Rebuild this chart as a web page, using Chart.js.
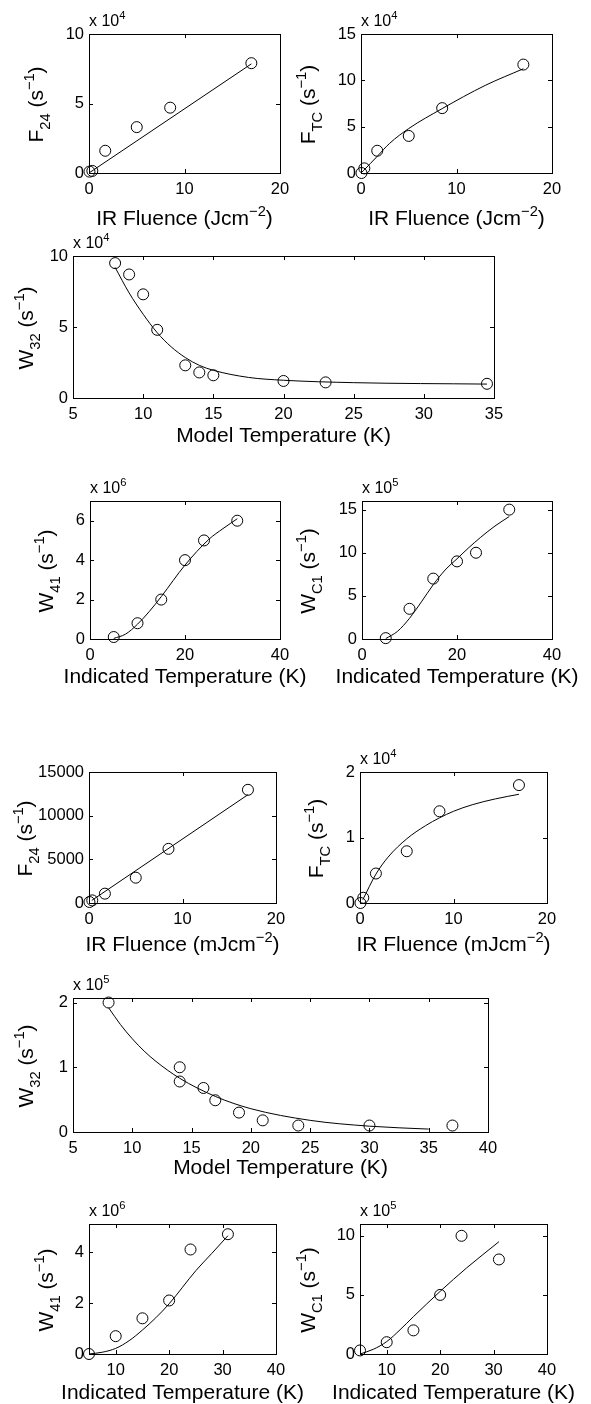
<!DOCTYPE html>
<html>
<head>
<meta charset="utf-8">
<script src="https://cdn.jsdelivr.net/npm/chart.js@4/dist/chart.umd.min.js"></script>
<style>
html, body { margin: 0; padding: 0; background: #fff; overflow: hidden; }
#fig { position: relative; width: 591px; height: 1404px; }
#fig canvas { position: absolute; }
</style>
</head>
<body>
<div id="fig"></div>
<script>
(function(){
// ---- upper figure (rates in units of the axis multiplier) ----
const fluence = [0.05, 0.35, 1.7, 5, 8.5, 17];
const f24Upper = [0.1, 0.15, 1.6, 3.3, 4.7, 7.9];
const f24UpperFitX = [0, 17];
const f24UpperFitY = [0, 7.85];
const ftcUpper = [0, 0.5, 2.4, 4, 7, 11.7];
const ftcUpperFitX = [0, 0.3, 1.7, 3, 5, 8.5, 13, 17];
const ftcUpperFitY = [0, 0.3, 1.8, 3.2, 4.8, 6.95, 9.45, 11.25];
const modelTUpper = [8, 9, 10, 11, 13, 14, 15, 20, 23, 34.5];
const w32Upper = [9.5, 8.7, 7.3, 4.8, 2.3, 1.8, 1.6, 1.2, 1.1, 1.0];
const w32UpperFitX = [8, 9, 10, 11, 12, 13, 14, 15, 17.5, 20, 25, 34.5];
const w32UpperFitY = [9.2, 7.4, 5.9, 4.6, 3.6, 2.85, 2.3, 1.95, 1.45, 1.25, 1.08, 0.98];
const indicatedT = [5, 10, 15, 20, 24, 31];
const w41Upper = [0.1, 0.8, 2.0, 4.0, 5.0, 6.0];
const w41UpperFitX = [5, 7.5, 10, 12.5, 15, 20, 25, 28, 31];
const w41UpperFitY = [0.03, 0.25, 0.75, 1.4, 2.15, 3.75, 5.05, 5.6, 6.1];
const wc1Upper = [0.1, 3.5, 7, 9, 10, 15];
const wc1UpperFitX = [5, 7.5, 10, 12.5, 15, 17.5, 20, 22.5, 25, 28, 31];
const wc1UpperFitY = [0.05, 0.9, 2.4, 4.3, 6.3, 8.0, 9.3, 10.6, 11.8, 13.1, 14.2];

// ---- lower figure ----
const f24Lower = [115, 300, 1070, 2900, 6200, 12960];
const f24LowerFitX = [0.3, 17];
const f24LowerFitY = [300, 12400];
const ftcLower = [0.0, 0.08, 0.45, 0.79, 1.4, 1.8];
const ftcLowerFitX = [0.3, 1.7, 3, 5, 7, 8.5, 10, 12, 14.5, 17];
const ftcLowerFitY = [0.05, 0.44, 0.7, 0.98, 1.18, 1.3, 1.4, 1.5, 1.59, 1.66];
const modelTLower = [8, 14, 14, 16, 17, 19, 21, 24, 30, 37];
const w32Lower = [2.0, 1.0, 0.78, 0.68, 0.49, 0.3, 0.18, 0.1, 0.1, 0.1];
const w32LowerFitX = [8, 9, 10, 11, 12, 14, 17, 20, 25, 30, 35];
const w32LowerFitY = [1.92, 1.66, 1.44, 1.25, 1.09, 0.83, 0.55, 0.36, 0.18, 0.09, 0.045];
const w41Lower = [0, 0.7, 1.4, 2.1, 4.1, 4.7];
const w41LowerFitX = [5, 7.5, 10, 12.5, 15, 17.5, 20, 25, 28, 31];
const w41LowerFitY = [0, 0.07, 0.22, 0.52, 0.94, 1.42, 1.97, 3.27, 3.95, 4.64];
const wc1Lower = [0.3, 1, 2, 5, 10, 8];
const wc1LowerFitX = [5, 7.5, 10, 12.5, 15, 20, 25, 31];
const wc1LowerFitY = [0, 0.4, 1.05, 2.05, 3.16, 5.3, 7.3, 9.5];

const FONT = '"Liberation Sans", Arial, Helvetica, sans-serif';
const INK = '#000';
const TITLE = 21, TICK = 16.5, EXP = 16;

const fluenceJ = [['IR Fluence (Jcm', ''], ['−2', 'sup'], [')', '']];
const fluenceMJ = [['IR Fluence (mJcm', ''], ['−2', 'sup'], [')', '']];
const modelT = [['Model Temperature (K)', '']];
const indT = [['Indicated Temperature (K)', '']];
const rate = (sym, sub) => [[sym, ''], [sub, 'sub'], [' (s', ''], ['−1', 'sup'], [')', '']];

// canvas columns; neighbours overlap, the canvases are transparent
const LEFT = [0, 330], RIGHT = [290, 591], WIDE = [0, 591];

const panels = [
  { cell: LEFT, box: [89, 34, 280, 173], x: [0, 20, 10], y: [0, 10, 5], exp: '4',
    yTitle: rate('F', '24'), yTitleX: 43, xTitle: fluenceJ, xTitleY: 225,
    pts: [fluence, f24Upper], fit: [f24UpperFitX, f24UpperFitY] },
  { cell: RIGHT, box: [361, 34, 552, 173], x: [0, 20, 10], y: [0, 15, 5], exp: '4',
    yTitle: rate('F', 'TC'), yTitleX: 315, xTitle: fluenceJ, xTitleY: 225,
    pts: [fluence, ftcUpper], fit: [ftcUpperFitX, ftcUpperFitY] },
  { cell: WIDE, box: [73, 256, 494, 398], x: [5, 35, 5], y: [0, 10, 5], exp: '4',
    yTitle: rate('W', '32'), yTitleX: 33, xTitle: modelT, xTitleY: 442,
    pts: [modelTUpper, w32Upper], fit: [w32UpperFitX, w32UpperFitY] },
  { cell: LEFT, box: [90, 501, 280, 639], x: [0, 40, 20], y: [0, 7, 2], exp: '6',
    yTitle: rate('W', '41'), yTitleX: 53, xTitle: indT, xTitleY: 683,
    pts: [indicatedT, w41Upper], fit: [w41UpperFitX, w41UpperFitY] },
  { cell: RIGHT, box: [362, 501, 552, 639], x: [0, 40, 20], y: [0, 16, 5], exp: '5',
    yTitle: rate('W', 'C1'), yTitleX: 315, xTitle: indT, xTitleY: 683,
    pts: [indicatedT, wc1Upper], fit: [wc1UpperFitX, wc1UpperFitY] },
  { cell: LEFT, box: [89, 772, 276, 903], x: [0, 20, 10], y: [0, 15000, 5000], exp: null,
    yTitle: rate('F', '24'), yTitleX: 32, xTitle: fluenceMJ, xTitleY: 951,
    pts: [fluence, f24Lower], fit: [f24LowerFitX, f24LowerFitY] },
  { cell: RIGHT, box: [360, 772, 547, 903], x: [0, 20, 10], y: [0, 2, 1], exp: '4',
    yTitle: rate('F', 'TC'), yTitleX: 323, xTitle: fluenceMJ, xTitleY: 951,
    pts: [fluence, ftcLower], fit: [ftcLowerFitX, ftcLowerFitY] },
  { cell: WIDE, box: [73, 998, 488, 1132], x: [5, 40, 5], y: [0, 2.07, 1], exp: '5',
    yTitle: rate('W', '32'), yTitleX: 33, xTitle: modelT, xTitleY: 1174,
    pts: [modelTLower, w32Lower], fit: [w32LowerFitX, w32LowerFitY] },
  { cell: LEFT, box: [89, 1224, 276, 1354], x: [5, 40, 10], y: [0, 5.1, 2], exp: '6',
    yTitle: rate('W', '41'), yTitleX: 53, xTitle: indT, xTitleY: 1399,
    pts: [indicatedT, w41Lower], fit: [w41LowerFitX, w41LowerFitY] },
  { cell: RIGHT, box: [360, 1224, 547, 1354], x: [5, 40, 10], y: [0, 11, 5], exp: '5',
    yTitle: rate('W', 'C1'), yTitleX: 315, xTitle: indT, xTitleY: 1399,
    pts: [indicatedT, wc1Lower], fit: [wc1LowerFitX, wc1LowerFitY] },
];

// text with sub/superscript runs; align 'center' or 'left', y is the baseline
function drawRich(ctx, parts, x, y, size, align) {
  const runs = parts.map(([t, k]) => {
    const s = k ? size * 0.7 : size;
    ctx.font = s + 'px ' + FONT;
    return { t, k, s, w: ctx.measureText(t).width };
  });
  const total = runs.reduce((a, r) => a + r.w, 0);
  let cx = align === 'left' ? x : x - total / 2;
  ctx.textAlign = 'left';
  ctx.textBaseline = 'alphabetic';
  runs.forEach(r => {
    ctx.font = r.s + 'px ' + FONT;
    const dy = r.k === 'sub' ? size * 0.32 : r.k === 'sup' ? -size * 0.45 : 0;
    ctx.fillText(r.t, cx, y + dy);
    cx += r.w;
  });
}

const zip = (xs, ys) => xs.map((x, i) => ({ x, y: ys[i] }));

const fig = document.getElementById('fig');

panels.forEach(p => {
  const cx = p.cell[0], cw = p.cell[1] - p.cell[0];
  const cy = p.box[1] - 40;
  const ch = p.box[3] - p.box[1] + 40 + 60;
  const canvas = document.createElement('canvas');
  canvas.width = cw;
  canvas.height = ch;
  canvas.style.left = cx + 'px';
  canvas.style.top = cy + 'px';
  fig.appendChild(canvas);

  // box with inward ticks on all four sides, plus axis titles
  const axesBox = {
    id: 'axesBox',
    afterDraw(chart) {
      const ctx = chart.ctx;
      const { left, right, top, bottom } = chart.chartArea;
      const xs = chart.scales.x, ys = chart.scales.y;
      const tl = 4;
      ctx.save();
      ctx.strokeStyle = INK;
      ctx.lineWidth = 1;
      ctx.beginPath();
      xs.ticks.forEach(t => {
        const px = Math.round(xs.getPixelForValue(t.value)) + 0.5;
        ctx.moveTo(px, bottom); ctx.lineTo(px, bottom - tl);
        ctx.moveTo(px, top); ctx.lineTo(px, top + tl);
      });
      ys.ticks.forEach(t => {
        const py = Math.round(ys.getPixelForValue(t.value)) + 0.5;
        ctx.moveTo(left, py); ctx.lineTo(left + tl, py);
        ctx.moveTo(right, py); ctx.lineTo(right - tl, py);
      });
      ctx.stroke();
      ctx.strokeRect(Math.round(left) + 0.5, Math.round(top) + 0.5,
        Math.round(right - left), Math.round(bottom - top));

      ctx.fillStyle = INK;
      drawRich(ctx, p.xTitle, (left + right) / 2, p.xTitleY - cy, TITLE, 'center');
      ctx.save();
      ctx.translate(p.yTitleX - cx, (top + bottom) / 2 + 1);
      ctx.rotate(-Math.PI / 2);
      drawRich(ctx, p.yTitle, 0, 0, TITLE, 'center');
      ctx.restore();
      if (p.exp) {
        drawRich(ctx, [['x 10', ''], [p.exp, 'sup']], left, top - 8, EXP, 'left');
      }
      ctx.restore();
    }
  };

  new Chart(canvas, {
    type: 'scatter',
    data: {
      datasets: [{
        data: zip(p.fit[0], p.fit[1]),
        showLine: true,
        borderColor: INK,
        borderWidth: 1,
        pointRadius: 0,
        cubicInterpolationMode: 'monotone',
        fill: false,
      }, {
        data: zip(p.pts[0], p.pts[1]),
        showLine: false,
        pointStyle: 'circle',
        pointRadius: 5.5,
        borderColor: INK,
        borderWidth: 1,
        backgroundColor: 'rgba(0,0,0,0)',
        clip: false,
      }]
    },
    options: {
      responsive: false,
      animation: false,
      events: [],
      layout: { padding: { top: p.box[1] - cy, right: cx + cw - p.box[2], left: 0, bottom: 0 } },
      plugins: { legend: { display: false }, tooltip: { enabled: false } },
      scales: {
        x: {
          type: 'linear', min: p.x[0], max: p.x[1],
          grid: { display: false, drawTicks: false },
          border: { display: false },
          ticks: { stepSize: p.x[2], includeBounds: false, autoSkip: false, maxRotation: 0,
                   padding: 7, color: INK, font: { family: FONT, size: TICK },
                   callback: v => String(v) },
          afterFit: s => { s.height = cy + ch - p.box[3]; s.paddingLeft = 0; s.paddingRight = 0; },
        },
        y: {
          type: 'linear', min: p.y[0], max: p.y[1],
          grid: { display: false, drawTicks: false },
          border: { display: false },
          ticks: { stepSize: p.y[2], includeBounds: false, autoSkip: false,
                   padding: 5, color: INK, font: { family: FONT, size: TICK },
                   callback: v => String(v) },
          afterFit: s => { s.width = p.box[0] - cx; s.paddingTop = 0; s.paddingBottom = 0; },
        }
      }
    },
    plugins: [axesBox]
  });
});
})();
</script>
</body>
</html>
